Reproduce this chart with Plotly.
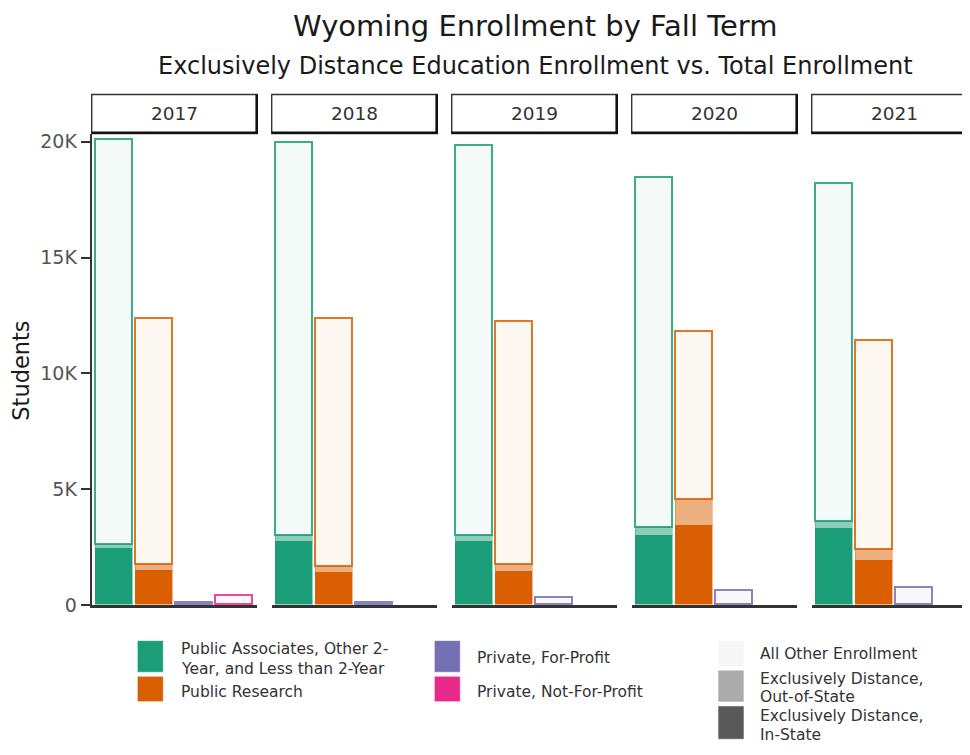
import plotly.graph_objects as go

# ---------------- data ----------------
years = ["2017", "2018", "2019", "2020", "2021"]
categories = [
    "Public Associates, Other 2-Year, and Less than 2-Year",
    "Public Research",
    "Private, For-Profit",
    "Private, Not-For-Profit",
]
# total enrollment per category, per year
total_assoc = [20050, 19950, 19810, 18450, 18170]
total_research = [12370, 12370, 12200, 11790, 11420]
total_forprofit = [90, 90, 330, 605, 760]
total_notforprofit = [410, None, None, None, None]
# exclusively distance, in-state
instate_assoc = [2420, 2730, 2750, 3000, 3270]
instate_research = [1460, 1380, 1450, 3420, 1900]
instate_forprofit = [None, None, None, None, None]
instate_notforprofit = [None, None, None, None, None]
# exclusively distance, out-of-state
outstate_assoc = [170, 270, 240, 350, 340]
outstate_research = [255, 270, 265, 1125, 490]
outstate_forprofit = [None, None, None, None, None]
outstate_notforprofit = [None, None, None, None, None]

y_ticks = [0, 5000, 10000, 15000, 20000]
y_tick_labels = ["0", "5K", "10K", "15K", "20K"]

colors = ["#1b9e77", "#d95f02", "#7570b3", "#e7298a"]

W, H = 970, 755
OFFX, OFFY = 8, 8  # page body margin compensation
FONT = "DejaVu Sans"
TXT = "#333333"


def px(x):
    return (x - OFFX) / W


def py(y):
    return 1 - (y - OFFY) / H


def rgba(hexc, a):
    h = hexc.lstrip("#")
    r, g, b = int(h[0:2], 16), int(h[2:4], 16), int(h[4:6], 16)
    return f"rgba({r},{g},{b},{a})"


totals = [total_assoc, total_research, total_forprofit, total_notforprofit]
instates = [instate_assoc, instate_research, instate_forprofit, instate_notforprofit]
outstates = [outstate_assoc, outstate_research, outstate_forprofit, outstate_notforprofit]

fig = go.Figure()

panel_left = [91.7 + 180 * i for i in range(5)]
panel_w = 165.6
unit = 40.0  # px per category
y_top_px, y_bot_px = 132.5, 613.3
y20k_px = 140.3

for yi, yr in enumerate(years):
    xa = "x" if yi == 0 else f"x{yi+1}"
    ins, outs, others = [], [], []
    for ci in range(len(categories)):
        t = totals[ci][yi]
        i_ = instates[ci][yi] or 0
        o_ = outstates[ci][yi] or 0
        ins.append(i_ if i_ else None)
        outs.append(o_ if o_ else None)
        others.append((t - i_ - o_) if t else None)
    fig.add_trace(go.Bar(
        x=categories, y=ins, xaxis=xa, yaxis="y", width=0.92,
        marker=dict(color=colors, line=dict(color=[rgba(c, 0.45) for c in colors], width=1.2)),
        showlegend=False, name="Exclusively Distance, In-State"))
    fig.add_trace(go.Bar(
        x=categories, y=outs, xaxis=xa, yaxis="y", width=0.92,
        marker=dict(color=[rgba(c, 0.5) for c in colors],
                    line=dict(color=[rgba(c, 0.35) for c in colors], width=1.2)),
        showlegend=False, name="Exclusively Distance, Out-of-State"))
    fig.add_trace(go.Bar(
        x=categories, y=others, xaxis=xa, yaxis="y", width=0.92,
        marker=dict(color=[rgba(c, 0.05) for c in colors],
                    line=dict(color=[rgba(c, 0.85) for c in colors], width=1.6)),
        showlegend=False, name="All Other Enrollment"))

layout = dict(
    width=W, height=H, barmode="stack", bargap=0,
    margin=dict(l=0, r=0, t=0, b=0),
    paper_bgcolor="white", plot_bgcolor="white",
    font=dict(family=FONT, color=TXT),
    showlegend=False,
)

ydom = [py(y_bot_px), py(y_top_px)]
yrange_top = (y_bot_px - y_top_px) / ((y_bot_px - y20k_px) / 20000)
layout["yaxis"] = dict(
    domain=ydom, range=[0, yrange_top], anchor="x",
    tickvals=y_ticks, ticktext=y_tick_labels,
    ticks="outside", ticklen=9, tickwidth=1.5, tickcolor="#333333",
    showline=True, linecolor="#333333", linewidth=2,
    showgrid=False, zeroline=False,
    tickfont=dict(size=19, color="#555555", family=FONT),
)

shapes = []
annotations = []
x_right_limit = OFFX + W
for i in range(5):
    key = "xaxis" if i == 0 else f"xaxis{i+1}"
    left = panel_left[i]
    right = min(left + panel_w, x_right_limit)
    layout[key] = dict(
        domain=[px(left), px(right)], anchor="y",
        type="category", categoryorder="array", categoryarray=categories,
        range=[-0.57, -0.57 + (right - left) / unit],
        showticklabels=False, ticks="", showgrid=False, zeroline=False,
        showline=True, linecolor="#333333", linewidth=2.5,
    )
    # facet strip
    sl, sr = left, left + panel_w
    shapes.append(dict(type="rect", xref="paper", yref="paper",
                       x0=px(sl), x1=px(sr), y0=py(132.0), y1=py(92.2),
                       line=dict(color="#333333", width=1.4), fillcolor="white", layer="above"))
    shapes.append(dict(type="line", xref="paper", yref="paper",
                       x0=px(sl), x1=px(sr + 0.5), y0=py(131.2), y1=py(131.2),
                       line=dict(color="#111111", width=2.6)))
    shapes.append(dict(type="line", xref="paper", yref="paper",
                       x0=px(sr - 0.6), x1=px(sr - 0.6), y0=py(92.2), y1=py(132.3),
                       line=dict(color="#111111", width=2.6)))
    annotations.append(dict(text=years[i], xref="paper", yref="paper",
                            x=px((sl + sr) / 2), y=py(111.5), xanchor="center", yanchor="middle",
                            showarrow=False, font=dict(size=18.5, color=TXT, family=FONT)))

# titles
annotations.append(dict(text="Wyoming Enrollment by Fall Term", xref="paper", yref="paper",
                        x=px(535), y=py(22), xanchor="center", yanchor="middle",
                        showarrow=False, font=dict(size=29, color="#1a1a1a", family=FONT)))
annotations.append(dict(text="Exclusively Distance Education Enrollment vs. Total Enrollment",
                        xref="paper", yref="paper",
                        x=px(535), y=py(63), xanchor="center", yanchor="middle",
                        showarrow=False, font=dict(size=24, color="#1a1a1a", family=FONT)))
annotations.append(dict(text="Students", xref="paper", yref="paper",
                        x=px(21), y=py(374), xanchor="center", yanchor="middle", textangle=-90,
                        showarrow=False, font=dict(size=22.5, color="#1a1a1a", family=FONT)))

# legend (drawn manually)
LEG_FONT = dict(size=15.5, color=TXT, family=FONT)


def swatch(x0, x1, y0, y1, col):
    shapes.append(dict(type="rect", xref="paper", yref="paper",
                       x0=px(x0), x1=px(x1), y0=py(y1), y1=py(y0),
                       fillcolor=col, line=dict(color="rgba(255,255,255,0.6)", width=1)))


def ltext(x, y, s):
    annotations.append(dict(text=s, xref="paper", yref="paper", x=px(x), y=py(y),
                            xanchor="left", yanchor="middle", showarrow=False,
                            align="left", borderpad=0, font=LEG_FONT))


swatch(137.3, 163.3, 649.3, 681.7, colors[0])
swatch(137.3, 163.3, 685.7, 711.7, colors[1])
ltext(180, 657.5, "Public Associates, Other 2-")
ltext(180, 678.5, "Year, and Less than 2-Year")
ltext(180, 701.5, "Public Research")

swatch(434.3, 460.3, 649.3, 681.7, colors[2])
swatch(434.3, 460.3, 685.7, 711.7, colors[3])
ltext(476, 667.5, "Private, For-Profit")
ltext(476, 701.5, "Private, Not-For-Profit")

swatch(718, 744, 649.3, 676, "#f7f7f7")
swatch(718, 744, 679.5, 712, "#ababab")
swatch(718, 744, 716, 750, "#595959")
ltext(759, 663.5, "All Other Enrollment")
ltext(759, 688.5, "Exclusively Distance,")
ltext(759, 707, "Out-of-State")
ltext(759, 726, "Exclusively Distance,")
ltext(759, 745.5, "In-State")

layout["shapes"] = shapes
layout["annotations"] = annotations
fig.update_layout(**layout)

fig.write_html("out.html")
